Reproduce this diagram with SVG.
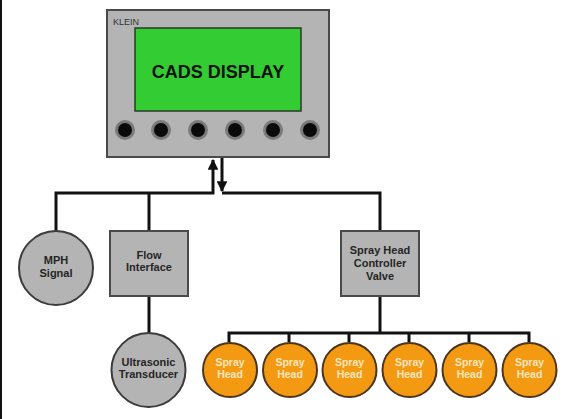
<svg xmlns="http://www.w3.org/2000/svg" width="567" height="419" viewBox="0 0 567 419">
<defs>
<style>
.box{fill:#b4b4b4;stroke:#4a4a4a;stroke-width:2}
.gc{fill:#b4b4b4;stroke:#3c3c3c;stroke-width:2}
.oc{fill:#f49a12;stroke:#4a3520;stroke-width:2}
.t{font-family:"Liberation Sans",Arial,sans-serif;font-weight:bold;font-size:11px;fill:#262626;text-anchor:middle}
.w{font-family:"Liberation Sans",Arial,sans-serif;font-weight:bold;font-size:10.5px;fill:#fde6bf;text-anchor:middle}
.ln{fill:none;stroke:#111;stroke-width:3}
.knob-o{fill:#7a7a7a}
.knob-i{fill:#0a0a0a}
</style>
<marker id="ah" viewBox="0 0 10 10" refX="9" refY="5" markerWidth="3.6" markerHeight="3.6" orient="auto" markerUnits="strokeWidth">
<path d="M0,0 L10,5 L0,10 z" fill="#111"/>
</marker>
</defs>
<rect x="0" y="0" width="567" height="419" fill="#fff"/>
<rect x="0" y="0" width="2" height="419" fill="#111"/>

<g id="display">
<rect class="box" x="107" y="10" width="222" height="147"/>
<text x="113" y="25" font-family="Liberation Sans,Arial,sans-serif" font-size="9" fill="#333">KLEIN</text>
<rect x="135" y="28" width="166" height="83" fill="#33cc33" stroke="#2a3a2a" stroke-width="1.5"/>
<text x="218" y="78" font-family="Liberation Sans,Arial,sans-serif" font-weight="bold" font-size="18" fill="#111" text-anchor="middle">CADS DISPLAY</text>
<circle class="knob-o" cx="125" cy="130" r="10"/><circle class="knob-i" cx="125" cy="130" r="7"/>
<circle class="knob-o" cx="161" cy="130" r="10"/><circle class="knob-i" cx="161" cy="130" r="7"/>
<circle class="knob-o" cx="198" cy="130" r="10"/><circle class="knob-i" cx="198" cy="130" r="7"/>
<circle class="knob-o" cx="235" cy="130" r="10"/><circle class="knob-i" cx="235" cy="130" r="7"/>
<circle class="knob-o" cx="273" cy="130" r="10"/><circle class="knob-i" cx="273" cy="130" r="7"/>
<circle class="knob-o" cx="310" cy="130" r="10"/><circle class="knob-i" cx="310" cy="130" r="7"/>
</g>

<g id="connectors">
<path class="ln" d="M56,231 V193 H213 V160" marker-end="url(#ah)"/>
<path class="ln" d="M149,193 V231"/>
<path class="ln" d="M222,158 V191" marker-end="url(#ah)"/>
<path class="ln" d="M222,193 H380 V231"/>
<path class="ln" d="M149,296 V333"/>
<path class="ln" d="M380,296 V333"/>
<path class="ln" d="M229,342 V333 H529 V342"/>
<path class="ln" d="M289,333 V342 M349,333 V342 M409,333 V342 M469,333 V342"/>
</g>

<g id="mph">
<circle class="gc" cx="56" cy="268" r="37"/>
<text class="t" x="56" y="264">MPH</text>
<text class="t" x="56" y="277">Signal</text>
</g>

<g id="flow">
<rect class="box" x="110" y="231" width="78" height="65"/>
<text class="t" x="149" y="259">Flow</text>
<text class="t" x="149" y="271">Interface</text>
</g>

<g id="ultrasonic">
<circle class="gc" cx="148.5" cy="370" r="37"/>
<text class="t" x="148.5" y="366">Ultrasonic</text>
<text class="t" x="148.5" y="378">Transducer</text>
</g>

<g id="valve">
<rect class="box" x="341" y="231" width="78" height="65"/>
<text class="t" x="380" y="254">Spray Head</text>
<text class="t" x="380" y="267">Controller</text>
<text class="t" x="380" y="280">Valve</text>
</g>

<g id="spray1"><circle class="oc" cx="230" cy="370" r="27"/><text class="w" x="230" y="366">Spray</text><text class="w" x="230" y="378">Head</text></g>
<g id="spray2"><circle class="oc" cx="290" cy="370" r="27"/><text class="w" x="290" y="366">Spray</text><text class="w" x="290" y="378">Head</text></g>
<g id="spray3"><circle class="oc" cx="349.5" cy="370" r="27"/><text class="w" x="349.5" y="366">Spray</text><text class="w" x="349.5" y="378">Head</text></g>
<g id="spray4"><circle class="oc" cx="409.5" cy="370" r="27"/><text class="w" x="409.5" y="366">Spray</text><text class="w" x="409.5" y="378">Head</text></g>
<g id="spray5"><circle class="oc" cx="469.5" cy="370" r="27"/><text class="w" x="469.5" y="366">Spray</text><text class="w" x="469.5" y="378">Head</text></g>
<g id="spray6"><circle class="oc" cx="529.5" cy="370" r="27"/><text class="w" x="529.5" y="366">Spray</text><text class="w" x="529.5" y="378">Head</text></g>
</svg>
